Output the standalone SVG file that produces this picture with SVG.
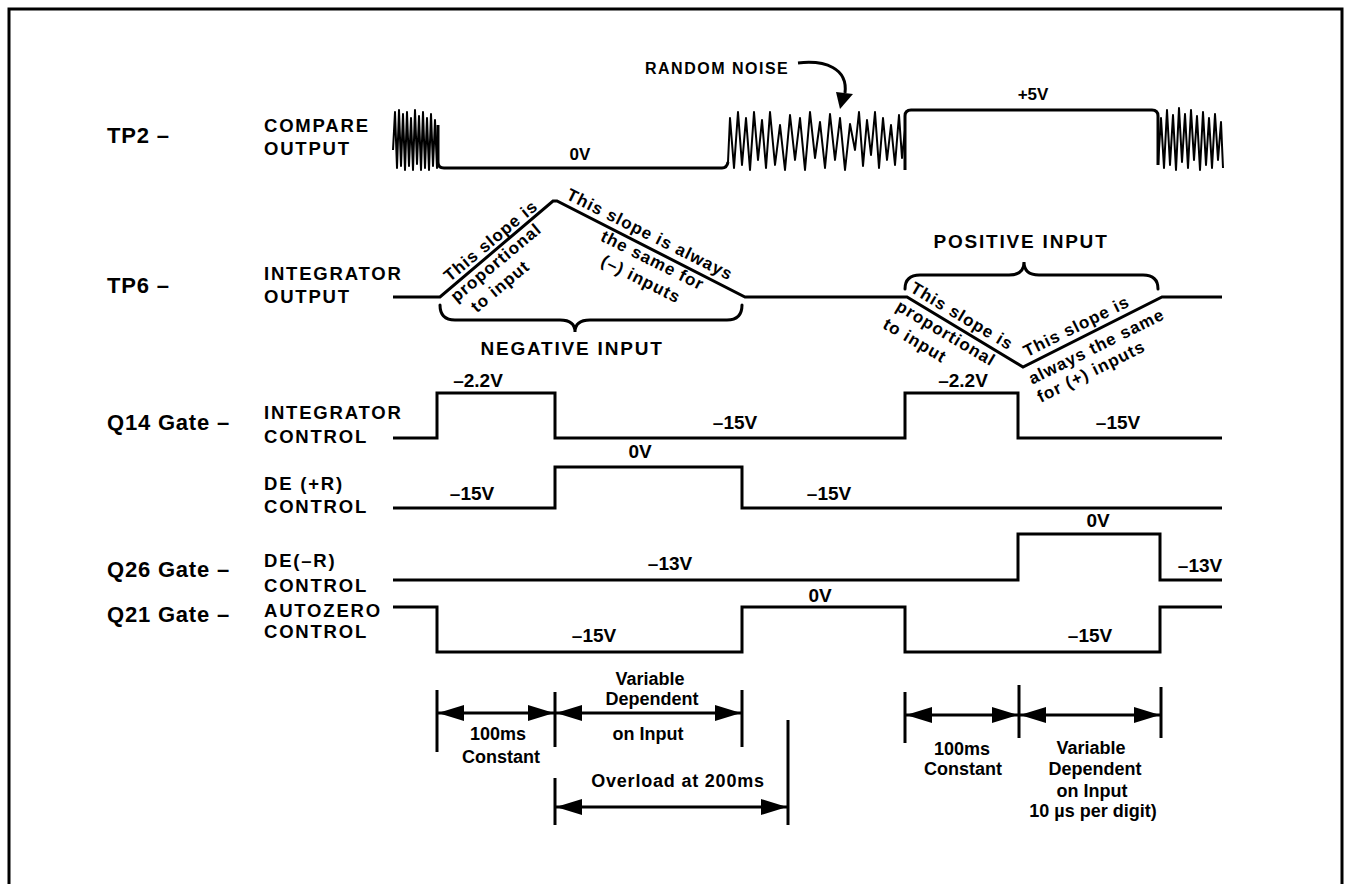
<svg xmlns="http://www.w3.org/2000/svg" width="1349" height="884" viewBox="0 0 1349 884">
<style>
.frame{fill:none;stroke:#000;stroke-width:3}
.wave{fill:none;stroke:#000;stroke-width:3;stroke-linejoin:miter}
.noise{fill:none;stroke:#000;stroke-width:2;stroke-linejoin:round}
.brace{fill:none;stroke:#000;stroke-width:3;stroke-linecap:round}
.t{font-family:"Liberation Sans",Arial,sans-serif;font-weight:bold;fill:#000}
.big{font-size:22px;letter-spacing:0.8px}
.sig{font-size:18.5px;letter-spacing:1.8px}
.volt{font-size:19px;text-anchor:middle}
.small{font-size:17px;text-anchor:middle}
.slope{font-size:17px;letter-spacing:1px;text-anchor:middle}
.hdr{font-size:19px;letter-spacing:1.8px;text-anchor:middle}
.dim{font-size:18px;text-anchor:middle}
.tick{stroke:#000;stroke-width:3}
.dl{stroke:#000;stroke-width:3;marker-start:url(#ah);marker-end:url(#ah)}
</style>
<defs>
<marker id="ah" viewBox="0 0 26 16" refX="26" refY="8" markerWidth="26" markerHeight="16" markerUnits="userSpaceOnUse" orient="auto-start-reverse">
<path d="M0,0 L26,8 L0,16 z" fill="#000"/>
</marker>
</defs>
<rect width="1349" height="884" fill="#fff"/>
<path class="frame" d="M9,884 L9,9 L1342,9 L1342,884"/>

<g id="tp2">
<text class="t big" x="107" y="143">TP2 –</text>
<text class="t sig" x="264" y="132">COMPARE</text>
<text class="t sig" x="264" y="155">OUTPUT</text>
<path class="noise" d="M393,150 L395,112 397,168 399,110 401,166 403,114 405,170 407,112 409,166 411,118 413,170 415,110 417,164 419,116 421,170 423,112 425,168 427,118 429,170 431,114 433,166 435,120 437,168 438,125"/>
<path class="wave" d="M438,125 L438,162 Q438,168 444,168 L722,168 Q727,168 728,162"/>
<path class="noise" d="M728,162 L730,118 734,168 738,112 742,165 746,118 750,170 754,112 758,160 762,120 766,168 770,112 775,165 780,125 785,170 790,115 795,160 800,118 805,170 810,112 815,158 820,122 825,168 830,114 835,160 840,118 845,170 850,124 855,150 859,112 863,166 867,120 871,155 875,112 879,168 883,118 887,160 891,125 895,165 899,115 902,158 905,130"/>
<path class="wave" d="M905,170 L905,116 Q905,110 911,110 L1152,110 Q1158,110 1158,116 L1158,165"/>
<path class="noise" d="M1158,165 L1161,118 1164,168 1167,110 1170,165 1173,115 1176,170 1179,108 1182,162 1185,114 1188,168 1191,110 1194,160 1197,116 1200,170 1203,112 1206,165 1209,118 1212,168 1215,114 1218,160 1221,122 1223,168"/>
<text class="t small" x="580" y="160">0V</text>
<text class="t small" x="1033" y="100">+5V</text>
<text class="t" style="font-size:16px;letter-spacing:1.5px" x="645" y="74">RANDOM NOISE</text>
<path class="wave" d="M798,63 C825,60 848,68 845,93"/>
<polygon points="840,109 836,92 853,94" fill="#000"/>
</g>

<g id="tp6">
<text class="t big" x="107" y="293">TP6 –</text>
<text class="t sig" x="264" y="280">INTEGRATOR</text>
<text class="t sig" x="264" y="303">OUTPUT</text>
<path class="wave" d="M393,297 L440,297 L553,201 L557,201 L745,297 L907,297 L1023,367 L1162,297 L1222,297"/>
<g transform="translate(440,297) rotate(-39.8)">
<text class="t slope" x="75" y="-5">This slope is</text>
<text class="t slope" x="65" y="15">proportional</text>
<text class="t slope" x="53" y="36">to input</text>
</g>
<g transform="translate(557,201) rotate(26.6)">
<text class="t slope" x="98" y="-6">This slope is always</text>
<text class="t slope" x="112" y="16">the same for</text>
<text class="t slope" x="110" y="38">(–) inputs</text>
</g>
<g transform="translate(907,297) rotate(30.7)">
<text class="t slope" x="57" y="-6">This slope is</text>
<text class="t slope" x="52" y="17">proportional</text>
<text class="t slope" x="29" y="39">to input</text>
</g>
<g transform="translate(1023,367) rotate(-26.4)">
<text class="t slope" x="66" y="-7">This slope is</text>
<text class="t slope" x="75" y="20">always the same</text>
<text class="t slope" x="59" y="40">for (+) inputs</text>
</g>
<path class="brace" d="M440,305 Q440,320 455,320 L560,320 Q575,320 575,332 Q575,320 590,320 L727,320 Q742,320 742,305"/>
<text class="t hdr" x="572" y="355">NEGATIVE INPUT</text>
<path class="brace" d="M905,289 Q905,275 920,275 L1009,275 Q1024,275 1024,262 Q1024,275 1039,275 L1143,275 Q1158,275 1158,289"/>
<text class="t hdr" x="1021" y="248">POSITIVE INPUT</text>
</g>

<g id="q14">
<text class="t big" x="107" y="430">Q14 Gate –</text>
<text class="t sig" x="264" y="419">INTEGRATOR</text>
<text class="t sig" x="264" y="443">CONTROL</text>
<path class="wave" d="M393,438 L437,438 L437,393 L555,393 L555,438 L905,438 L905,393 L1018,393 L1018,438 L1222,438"/>
<text class="t volt" x="478" y="387">–2.2V</text>
<text class="t volt" x="963" y="387">–2.2V</text>
<text class="t volt" x="735" y="429">–15V</text>
<text class="t volt" x="1118" y="429">–15V</text>
</g>

<g id="de_plus">
<text class="t sig" x="264" y="490">DE (+R)</text>
<text class="t sig" x="264" y="513">CONTROL</text>
<path class="wave" d="M393,508 L555,508 L555,467 L742,467 L742,508 L1222,508"/>
<text class="t volt" x="640" y="458">0V</text>
<text class="t volt" x="472" y="500">–15V</text>
<text class="t volt" x="829" y="500">–15V</text>
</g>

<g id="q26">
<text class="t big" x="107" y="577">Q26 Gate –</text>
<text class="t sig" x="264" y="567">DE(–R)</text>
<text class="t sig" x="264" y="592">CONTROL</text>
<path class="wave" d="M393,580 L1018,580 L1018,534 L1160,534 L1160,580 L1222,580"/>
<text class="t volt" x="670" y="570">–13V</text>
<text class="t volt" x="1098" y="527">0V</text>
<text class="t volt" x="1200" y="572">–13V</text>
</g>

<g id="q21">
<text class="t big" x="107" y="622">Q21 Gate –</text>
<text class="t sig" x="264" y="617">AUTOZERO</text>
<text class="t sig" x="264" y="638">CONTROL</text>
<path class="wave" d="M393,607 L437,607 L437,652 L742,652 L742,607 L905,607 L905,652 L1160,652 L1160,607 L1222,607"/>
<text class="t volt" x="820" y="602">0V</text>
<text class="t volt" x="594" y="642">–15V</text>
<text class="t volt" x="1090" y="642">–15V</text>
</g>

<g id="timing">
<line class="tick" x1="437" y1="690" x2="437" y2="752"/>
<line class="tick" x1="555" y1="692" x2="555" y2="747"/>
<line class="tick" x1="742" y1="690" x2="742" y2="747"/>
<line class="tick" x1="555" y1="778" x2="555" y2="825"/>
<line class="tick" x1="788" y1="720" x2="788" y2="825"/>
<line class="tick" x1="905" y1="692" x2="905" y2="743"/>
<line class="tick" x1="1019" y1="685" x2="1019" y2="738"/>
<line class="tick" x1="1161" y1="687" x2="1161" y2="738"/>
<text class="t dim" x="498" y="740">100ms</text>
<text class="t dim" x="501" y="763">Constant</text>
<text class="t dim" x="650" y="685">Variable</text>
<text class="t dim" x="652" y="705">Dependent</text>
<text class="t dim" x="648" y="740">on Input</text>
<text class="t dim" x="678" y="787" style="letter-spacing:0.8px">Overload at 200ms</text>
<text class="t dim" x="962" y="755">100ms</text>
<text class="t dim" x="963" y="775">Constant</text>
<text class="t dim" x="1091" y="754">Variable</text>
<text class="t dim" x="1095" y="775">Dependent</text>
<text class="t dim" x="1092" y="797">on Input</text>
<text class="t dim" x="1093" y="817">10 µs per digit)</text>
</g>

<g id="connectors">
<line class="dl" x1="438" y1="713" x2="554" y2="713"/>
<line class="dl" x1="556" y1="713" x2="741" y2="713"/>
<line class="dl" x1="556" y1="807" x2="787" y2="807"/>
<line class="dl" x1="906" y1="715" x2="1018" y2="715"/>
<line class="dl" x1="1020" y1="715" x2="1160" y2="715"/>
</g>
</svg>
